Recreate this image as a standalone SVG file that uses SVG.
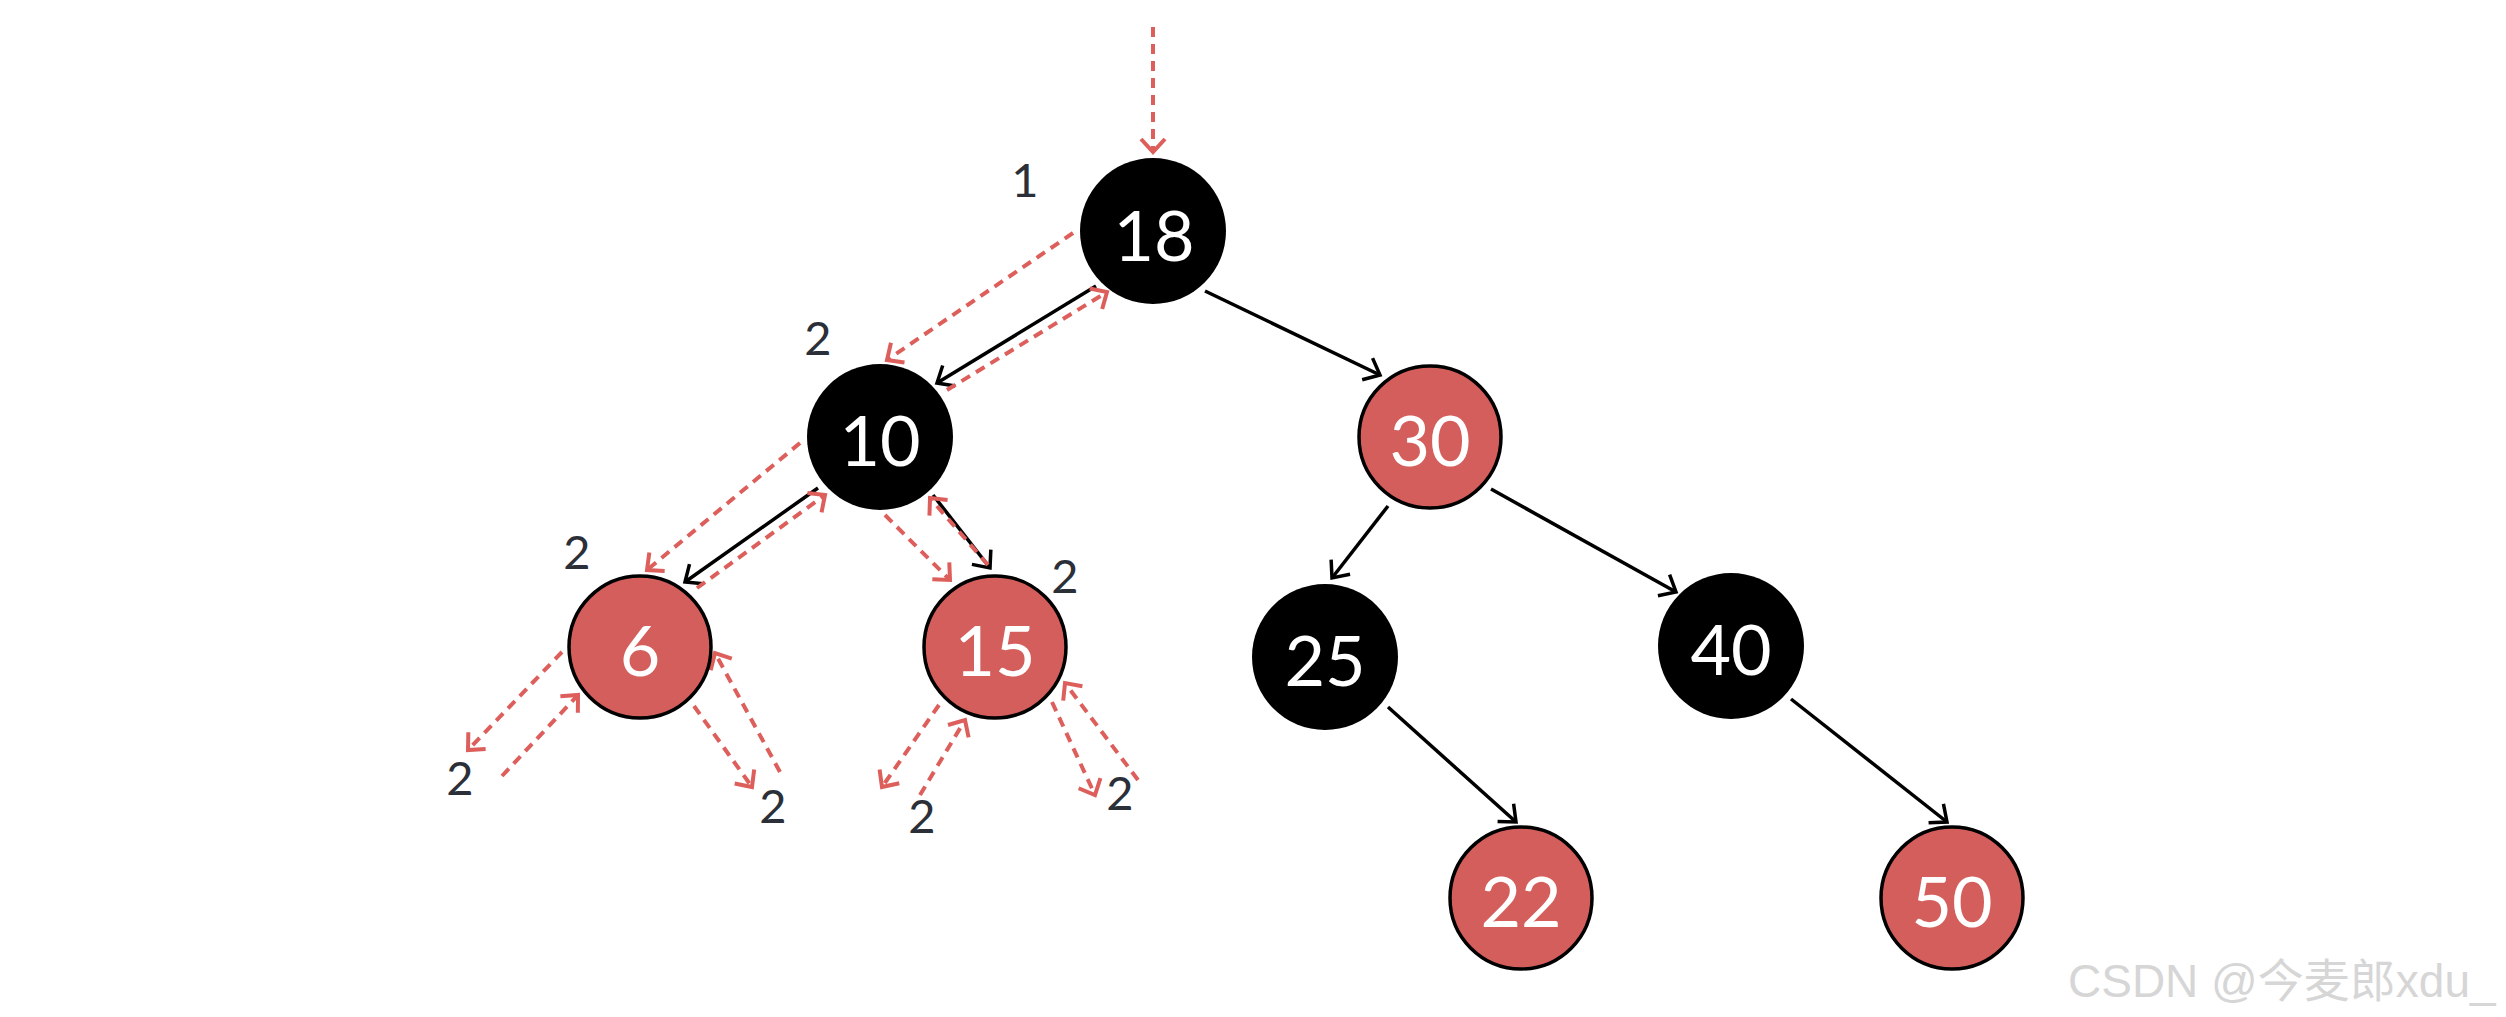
<svg xmlns="http://www.w3.org/2000/svg" width="2506" height="1017" viewBox="0 0 2506 1017">
<style>
.blk{fill:#000;}
.red{fill:#d45e5c;stroke:#000;stroke-width:3.5;}
.nt{font-family:Lato,"Noto Sans",sans-serif;font-size:70px;font-weight:400;fill:#fff;text-anchor:middle;}
.lb{font-family:Lato,"Noto Sans",sans-serif;font-size:47px;font-weight:400;fill:#2b3038;text-anchor:middle;}
.e{stroke:#000;stroke-width:3.5;fill:none;marker-end:url(#ab);}
.d{stroke:#dd5f5c;stroke-width:4;fill:none;stroke-dasharray:10 7;marker-end:url(#ar);}
.wm{font-family:"Liberation Sans","Noto Sans CJK SC",sans-serif;font-size:46px;fill:#d6d6d6;}
</style>
<defs>
<marker id="ab" markerUnits="userSpaceOnUse" markerWidth="30" markerHeight="30" viewBox="-16 -15 20 30" refX="0" refY="0" orient="auto">
<path d="M-14,-12 L0,0 L-14,12" fill="none" stroke="#000" stroke-width="3.5"/>
</marker>
<marker id="ar" markerUnits="userSpaceOnUse" markerWidth="30" markerHeight="30" viewBox="-16 -15 20 30" refX="0" refY="0" orient="auto">
<path d="M-13,-12 L0,0 L-13,12" fill="none" stroke="#dd5f5c" stroke-width="4"/>
</marker>
</defs>
<g id="connectors">
<line class="d" x1="1153" y1="27" x2="1153" y2="152"/>
<line class="e" x1="1096" y1="286" x2="937" y2="383"/>
<line class="d" x1="1073" y1="233" x2="887" y2="360"/>
<line class="d" x1="947" y1="390" x2="1107" y2="292"/>
<line class="e" x1="1205" y1="291" x2="1380" y2="375"/>
<line class="e" x1="818" y1="488" x2="685" y2="582"/>
<line class="d" x1="800" y1="443" x2="647" y2="570"/>
<line class="d" x1="697" y1="588" x2="825" y2="495"/>
<line class="e" x1="933" y1="495" x2="990" y2="568"/>
<line class="d" x1="885" y1="515" x2="950" y2="580"/>
<line class="d" x1="988" y1="565" x2="930" y2="498"/>
<line class="d" x1="562" y1="652" x2="468" y2="750"/>
<line class="d" x1="502" y1="776" x2="578" y2="695"/>
<line class="d" x1="694" y1="706" x2="752" y2="787"/>
<line class="d" x1="780" y1="772" x2="715" y2="653"/>
<line class="d" x1="939" y1="705" x2="882" y2="787"/>
<line class="d" x1="920" y1="795" x2="965" y2="720"/>
<line class="d" x1="1052" y1="702" x2="1095" y2="795"/>
<line class="d" x1="1138" y1="780" x2="1065" y2="683"/>
<line class="e" x1="1388" y1="506" x2="1332" y2="578"/>
<line class="e" x1="1491" y1="489" x2="1676" y2="592"/>
<line class="e" x1="1388" y1="707" x2="1516" y2="822"/>
<line class="e" x1="1791" y1="699" x2="1947" y2="822"/>
</g>
<g id="n18"><circle class="blk" cx="1153" cy="231" r="73"/><text class="nt" x="1154" y="261">18</text></g>
<g id="n10"><circle class="blk" cx="880" cy="437" r="73"/><text class="nt" x="880" y="466">10</text></g>
<g id="n30"><circle class="red" cx="1430" cy="437" r="71"/><text class="nt" x="1430" y="466">30</text></g>
<g id="n6"><circle class="red" cx="640" cy="647" r="71"/><text class="nt" x="640" y="676">6</text></g>
<g id="n15"><circle class="red" cx="995" cy="647" r="71"/><text class="nt" x="995" y="676">15</text></g>
<g id="n25"><circle class="blk" cx="1325" cy="657" r="73"/><text class="nt" x="1325" y="686">25</text></g>
<g id="n40"><circle class="blk" cx="1731" cy="646" r="73"/><text class="nt" x="1731" y="675">40</text></g>
<g id="n22"><circle class="red" cx="1521" cy="898" r="71"/><text class="nt" x="1521" y="927">22</text></g>
<g id="n50"><circle class="red" cx="1952" cy="898" r="71"/><text class="nt" x="1952" y="927">50</text></g>
<g id="labels">
<text class="lb" x="1025" y="197">1</text>
<text class="lb" x="818" y="355">2</text>
<text class="lb" x="577" y="569">2</text>
<text class="lb" x="1065" y="593">2</text>
<text class="lb" x="460" y="795">2</text>
<text class="lb" x="773" y="823">2</text>
<text class="lb" x="922" y="833">2</text>
<text class="lb" x="1120" y="810">2</text>
</g>
<text class="wm" x="2068" y="997">CSDN @今麦郎xdu_</text>
</svg>
